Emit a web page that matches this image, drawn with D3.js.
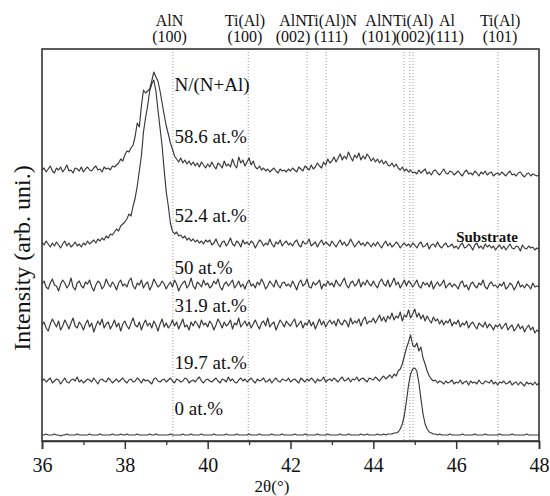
<!DOCTYPE html>
<html>
<head>
<meta charset="utf-8">
<script src="https://cdn.jsdelivr.net/npm/d3@7"></script>
<style>
  html, body { margin: 0; padding: 0; background: #fff; }
  svg { display: block; }
  text { font-family: "Liberation Serif", "Times New Roman", Times, serif; fill: #111; }
</style>
</head>
<body>
<svg id="chart" width="550" height="496"></svg>
<script>
// ---------------- DATA ----------------
// 2θ sampling: 36° to 48° every 0.05°
const twoThetaStart = 36, twoThetaStep = 0.05;

const seriesLabels = ["0 at.%", "19.7 at.%", "31.9 at.%", "50 at.%", "52.4 at.%", "58.6 at.%"];
// vertical stacking offsets (arb. units)
const seriesOffsets = [0, 50, 105, 145, 185, 260];

const int0 = [
6,6,7,6,6,6,7,6,6,5,6,6,7,6,6,6,6,7,6,6,
6,6,6,7,6,6,6,6,7,6,6,6,6,6,7,6,6,6,7,6,
6,7,6,6,6,6,7,6,6,6,6,6,7,6,6,7,6,6,6,6,
6,6,7,6,6,6,6,6,7,6,6,6,7,6,6,6,6,7,6,6,
6,6,6,7,6,6,6,6,6,7,6,6,6,6,7,6,6,6,6,6,
7,6,6,6,6,7,6,6,6,6,6,7,6,6,6,6,7,6,6,6,
6,6,7,6,6,6,6,7,6,6,6,6,6,7,6,6,6,6,7,6,
6,6,6,6,7,6,6,6,7,6,6,6,6,6,7,6,6,7,6,6,
6,6,7,6,6,7,6,7,7,7,8,8,9,12,17,26,40,56,67,72,
73,70,58,42,27,17,12,9,8,7,7,6,7,6,6,6,6,7,6,6,
6,6,6,7,6,6,6,6,6,7,6,6,6,6,7,6,6,6,6,6,
6,7,6,6,6,6,6,7,6,6,6,6,6,6,7,6,6,6,6,6,
6];

const int19_7 = [
10,12,9,11,13,8,10,12,11,7,10,13,9,8,11,12,10,14,9,11,
8,10,12,11,9,13,10,7,11,12,10,9,13,11,8,10,12,9,11,13,
10,8,11,12,9,10,13,11,8,12,10,11,9,7,12,13,10,9,11,12,
9,11,13,10,8,12,11,9,10,13,12,8,10,11,9,12,14,10,8,11,
12,10,9,11,13,10,8,12,11,9,14,10,12,9,8,11,13,10,12,9,
11,13,10,8,12,10,11,13,9,10,12,8,11,13,10,9,12,11,10,13,
9,11,12,10,8,13,11,9,12,10,13,11,8,12,10,11,14,9,11,12,
10,13,11,9,12,14,10,11,13,9,12,11,14,10,12,13,11,9,13,12,
11,14,12,10,13,15,12,14,16,13,17,15,20,22,27,35,43,49,56,46,
44,48,40,44,33,27,20,15,12,10,11,8,10,9,7,10,8,9,11,7,
9,8,11,7,9,10,6,10,8,9,7,11,8,7,10,9,8,11,7,9,
6,9,8,10,7,8,10,6,8,9,6,9,7,5,9,7,8,6,9,6,
8];

const int31_9 = [
11,14,8,5,12,17,13,9,15,6,10,16,12,7,13,18,10,8,14,11,
6,12,16,9,13,4,10,15,11,17,8,12,14,7,11,16,9,13,5,12,
15,10,7,13,18,11,9,14,6,12,16,10,13,8,15,11,5,12,17,9,
13,8,11,16,10,14,7,12,17,9,11,6,14,10,15,12,8,16,11,13,
9,15,12,6,11,17,13,8,14,10,12,16,7,13,11,18,9,12,15,10,
14,8,12,16,11,7,13,15,10,18,9,12,14,6,11,16,13,9,15,12,
10,14,17,9,12,15,8,13,11,16,10,14,7,12,17,11,15,9,13,16,
12,15,10,17,13,11,16,14,9,18,12,15,13,17,10,16,19,12,15,14,
18,13,17,21,15,19,14,20,17,23,16,20,18,24,15,21,19,26,18,22,
27,19,23,17,21,15,20,16,13,19,15,17,12,16,11,15,13,17,10,14,
12,16,9,13,11,15,8,12,14,10,7,13,11,9,14,8,12,10,6,11,
9,12,7,10,13,6,9,11,5,8,12,7,10,4,8,11,6,9,3,6,
4];

const int50 = [
12,15,9,7,13,17,11,10,5,12,16,13,8,11,18,9,6,13,15,10,
8,14,12,16,9,5,11,15,13,7,10,17,12,9,14,11,6,13,16,10,
12,9,15,18,10,7,13,11,16,8,12,14,6,10,17,13,9,11,15,12,
7,11,14,9,16,12,5,10,13,15,8,11,18,10,7,14,12,9,16,11,
13,8,10,15,12,17,9,6,12,14,10,13,16,8,11,15,9,12,7,13,
16,10,12,8,14,11,17,13,7,10,15,12,9,16,11,8,13,14,10,12,
9,15,11,6,13,16,10,12,17,9,8,14,11,13,16,7,12,10,15,11,
13,9,16,12,10,14,18,11,8,13,15,10,12,17,9,14,11,16,12,10,
15,11,8,14,17,12,10,16,9,13,18,11,14,8,12,16,10,15,13,9,
12,16,10,8,14,11,13,9,15,7,11,14,10,12,16,8,11,13,9,12,
10,7,13,15,9,11,6,12,14,10,8,13,11,16,9,7,12,14,10,11,
8,12,10,14,7,9,13,11,6,10,15,9,11,8,12,10,7,13,9,10,
9];

const int52_4 = [
14,11,15,12,9,13,10,14,11,8,12,15,10,13,9,11,14,10,12,9,
13,11,15,12,14,16,13,17,15,18,16,20,18,22,21,24,27,25,30,32,
34,37,42,40,50,58,70,85,100,124,138,150,165,172,176,165,146,128,110,86,
64,50,33,25,22,24,20,21,18,20,16,18,15,17,14,16,13,15,12,16,
14,16,11,13,17,12,9,14,15,10,13,18,12,10,15,13,9,16,12,14,
11,15,13,8,12,16,14,10,13,11,17,12,9,14,12,16,10,13,15,11,
13,10,14,16,11,9,15,12,13,17,10,12,14,9,13,16,11,14,12,10,
15,12,9,13,16,11,14,10,12,17,13,9,12,15,11,13,10,14,12,9,
13,10,14,11,8,12,15,10,13,9,11,14,12,8,11,13,10,12,9,13,
11,8,12,14,9,10,13,7,11,12,9,14,10,8,11,13,9,10,12,8,
10,7,11,13,8,9,12,10,6,11,13,8,10,7,12,9,11,8,10,6,
9,11,7,10,6,9,12,8,7,10,9,5,11,8,7,10,8,9,6,8,
7];

const int58_6 = [
11,13,9,12,15,10,8,13,11,14,9,12,16,10,11,8,13,12,10,14,
9,12,14,11,10,13,15,11,12,9,14,12,13,11,15,14,16,18,22,20,
26,30,29,33,36,45,58,54,75,91,88,90,92,100,109,104,100,90,78,66,
55,47,38,32,25,22,19,23,18,21,17,20,16,19,15,18,14,19,16,13,
17,14,19,15,12,18,16,13,20,15,17,14,22,16,13,24,18,21,15,19,
23,16,20,14,12,15,11,13,10,12,9,11,13,10,8,12,10,11,9,12,
10,13,11,9,14,12,10,15,13,11,16,12,14,18,15,13,19,16,22,18,
20,24,19,23,27,21,25,22,29,24,20,26,23,28,21,25,22,27,24,20,
23,19,22,18,21,17,20,16,15,18,14,17,13,11,14,10,12,9,11,8,
9,7,11,8,10,12,7,9,6,10,11,8,6,9,12,8,7,10,9,6,
8,10,7,5,9,11,7,8,6,10,8,5,9,7,10,6,8,9,5,7,
8,6,9,7,5,8,10,6,7,5,8,9,6,4,7,8,5,7,6,5,
6];

const seriesValues = [int0, int19_7, int31_9, int50, int52_4, int58_6];

// reference reflection positions (2θ, degrees) – dotted lines
const refLines = [39.16, 40.98, 42.40, 42.86, 44.74, 44.88, 44.96, 47.01];
// peak labels at the top
const peakNames = ["AlN", "Ti(Al)", "AlN", "Ti(Al)N", "AlN", "Ti(Al)", "Al", "Ti(Al)"];
const peakHkl   = ["(100)", "(100)", "(002)", "(111)", "(101)", "(002)", "(111)", "(101)"];
const peakLabelPos = [39.08, 40.9, 42.06, 42.98, 44.14, 44.96, 45.78, 47.06];

const xTicksMajor = [36, 38, 40, 42, 44, 46, 48];
const xTicksMinor = [37, 39, 41, 43, 45, 47];

// ---------------- CHART ----------------
const FONT = "Liberation Serif, Times New Roman, serif";
const svg = d3.select("#chart");
const L = 42, R = 539, T = 49, B = 441;

const x = d3.scaleLinear().domain([36, 48]).range([L, R]);
const y = d3.scaleLinear().domain([0, 392]).range([B, T]);

// dotted reference lines
svg.append("g").selectAll("line").data(refLines).join("line")
  .attr("x1", d => x(d)).attr("x2", d => x(d))
  .attr("y1", T).attr("y2", B)
  .attr("stroke", "#9a9a9a").attr("stroke-width", 1)
  .attr("stroke-dasharray", "1,2");

// curves
const line = d3.line()
  .x((d, i) => x(twoThetaStart + i * twoThetaStep))
  .y(d => d);

seriesValues.forEach((vals, k) => {
  const pts = vals.map(v => y(v + seriesOffsets[k]));
  svg.append("path")
    .attr("d", line(pts))
    .attr("fill", "none")
    .attr("stroke", "#383838")
    .attr("stroke-width", 1.15)
    .attr("stroke-linejoin", "round");
});

// frame
svg.append("rect")
  .attr("x", L).attr("y", T).attr("width", R - L).attr("height", B - T)
  .attr("fill", "none").attr("stroke", "#333").attr("stroke-width", 1.6);

// bottom axis (major, outward ticks)
const axMajor = svg.append("g").attr("transform", `translate(0,${B})`)
  .call(d3.axisBottom(x).tickValues(xTicksMajor).tickSize(8).tickPadding(9).tickFormat(d3.format("d")));
axMajor.attr("font-family", FONT).attr("font-size", 20);
axMajor.select(".domain").attr("stroke", "#333").attr("stroke-width", 1.6);
axMajor.selectAll(".tick line").attr("stroke", "#333").attr("stroke-width", 1.5);
axMajor.selectAll(".tick text").attr("fill", "#111");

const axMinor = svg.append("g").attr("transform", `translate(0,${B})`)
  .call(d3.axisBottom(x).tickValues(xTicksMinor).tickSize(4).tickFormat(""));
axMinor.select(".domain").remove();
axMinor.selectAll(".tick line").attr("stroke", "#333").attr("stroke-width", 1.3);

// axis titles
svg.append("text").attr("x", 272).attr("y", 492).attr("text-anchor", "middle")
  .attr("font-size", 17).text("2θ(°)");
svg.append("text")
  .attr("transform", "translate(30,258) rotate(-90)")
  .attr("text-anchor", "middle").attr("font-size", 24)
  .text("Intensity (arb. uni.)");

// top peak labels
const pl = svg.append("g");
pl.selectAll("text.n").data(peakNames).join("text").attr("class", "n")
  .attr("x", (d, i) => x(peakLabelPos[i])).attr("y", 26)
  .attr("text-anchor", "middle").attr("font-size", 16).text(d => d);
pl.selectAll("text.h").data(peakHkl).join("text").attr("class", "h")
  .attr("x", (d, i) => x(peakLabelPos[i])).attr("y", 42)
  .attr("text-anchor", "middle").attr("font-size", 16).text(d => d);

// series labels
const labelX = x(39.2);
const labelY = [415, 369, 312, 274, 222, 143];
seriesLabels.forEach((s, k) => {
  svg.append("text").attr("x", labelX).attr("y", labelY[k]).attr("font-size", 19).text(s);
});
svg.append("text").attr("x", labelX).attr("y", 91).attr("font-size", 19).text("N/(N+Al)");
svg.append("text").attr("x", x(46.0)).attr("y", 242).attr("font-size", 15)
  .attr("font-weight", "bold").text("Substrate");
</script>
</body>
</html>
